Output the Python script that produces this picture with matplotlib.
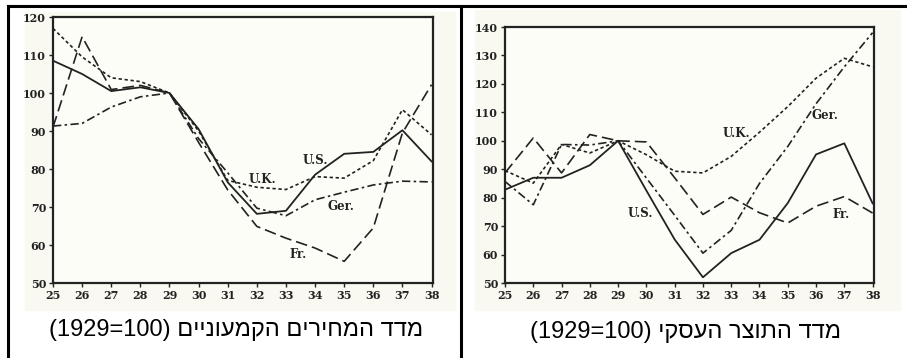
import matplotlib.pyplot as plt
from matplotlib.patches import Rectangle
from matplotlib.lines import Line2D

years = list(range(25, 39))
year_labels = [str(y) for y in years]

# wholesale prices, 1929 = 100
prices_us = [108.5, 105, 100.5, 101.5, 100, 90.5, 76.5, 68.2, 69, 78.5, 84, 84.5, 90.2, 82]
prices_uk = [117, 109.5, 104, 103, 100, 90, 77, 75.2, 74.6, 78, 77.6, 82.2, 95.6, 89]
prices_ger = [91.3, 92, 96.3, 99, 100, 88, 79, 69.7, 67.7, 71.9, 73.9, 75.8, 76.8, 76.6]
prices_fr = [91, 114.8, 100.9, 102, 100, 87, 74.5, 64.9, 61.8, 59.2, 55.7, 64.5, 89.5, 102.2]

# industrial production, 1929 = 100
prod_us = [82.8, 87, 87, 91.4, 100, 82.5, 65.3, 52, 60.5, 65.2, 78.1, 95.2, 99.1, 78]
prod_uk = [89.5, 85.1, 98.7, 95.7, 100, 95.1, 89.3, 88.7, 94.5, 103, 112, 122, 129, 126]
prod_ger = [85.7, 77.5, 98.7, 98.5, 100, 86.9, 73.8, 60.5, 68.5, 85, 98, 113, 126, 138]
prod_fr = [88.7, 101, 88.7, 102.2, 100, 99.6, 87, 74.1, 80.2, 74.7, 71.1, 77, 80.4, 74.6]

caption_left = "מדד המחירים הקמעוניים"
caption_right = "מדד התוצר העסקי"
base = "(1929=100)"

ink = '#222222'
styles = {
    'us': dict(ls='-', lw=1.3),
    'uk': dict(ls=(0, (2, 1.6)), lw=1.2),
    'ger': dict(ls=(0, (5, 2, 1.5, 2)), lw=1.2),
    'fr': dict(ls=(0, (7, 3)), lw=1.2),
}

fig = plt.figure(figsize=(9.07, 3.58), dpi=100)

# scanned paper background behind each chart
fig.patches.append(Rectangle((25 / 907, 1 - 310 / 358), 430 / 907, 298 / 358,
                             transform=fig.transFigure, color='#f9f9f1', zorder=-5))
fig.patches.append(Rectangle((475 / 907, 1 - 310 / 358), 425 / 907, 300 / 358,
                             transform=fig.transFigure, color='#f9f9f1', zorder=-5))

ax1 = fig.add_axes([53 / 907, 1 - 283 / 358, 380 / 907, 266 / 358])
ax2 = fig.add_axes([505 / 907, 1 - 283 / 358, 369 / 907, 256 / 358])


def draw(ax, us, uk, ger, fr, ylim, yticks):
    ax.set_facecolor('#fdfdf8')
    ax.plot(years, fr, color=ink, **styles['fr'])
    ax.plot(years, ger, color=ink, **styles['ger'])
    ax.plot(years, uk, color=ink, **styles['uk'])
    ax.plot(years, us, color=ink, **styles['us'])
    ax.set_xlim(25, 38.05)
    ax.set_ylim(*ylim)
    ax.set_xticks(years)
    ax.set_xticklabels(year_labels)
    ax.set_yticks(yticks)
    for s in ax.spines.values():
        s.set_linewidth(1.6)
        s.set_color(ink)
    ax.tick_params(direction='out', length=3, width=1, colors=ink, pad=2)
    for lab in ax.get_xticklabels() + ax.get_yticklabels():
        lab.set_fontfamily('DejaVu Serif')
        lab.set_fontweight('bold')
        lab.set_fontsize(8)


draw(ax1, prices_us, prices_uk, prices_ger, prices_fr, (50, 120), range(50, 121, 10))
draw(ax2, prod_us, prod_uk, prod_ger, prod_fr, (50, 140), range(50, 141, 10))

lab = dict(fontfamily='DejaVu Serif', fontweight='bold', fontsize=8.5, color=ink,
           ha='center', va='center')
ax1.text(34.0, 82.3, 'U.S.', **lab)
ax1.text(32.2, 77.2, 'U.K.', **lab)
ax1.text(34.9, 70.0, 'Ger.', **lab)
ax1.text(33.4, 57.6, 'Fr.', **lab)
ax2.text(33.2, 102.7, 'U.K.', **lab)
ax2.text(36.3, 109.0, 'Ger.', **lab)
ax2.text(29.8, 74.6, 'U.S.', **lab)
ax2.text(36.9, 74.0, 'Fr.', **lab)

# captions (hebrew written in visual order for left-to-right rendering)
cap = dict(fontfamily=['Liberation Sans', 'DejaVu Sans'], fontsize=17, color='black',
           ha='center', va='center')
fig.text(236 / 907, 1 - 330 / 358, base + ' ' + caption_left[::-1], **cap)
fig.text(685 / 907, 1 - 332 / 358, base + ' ' + caption_right[::-1], **cap)

# table frame lines
frame = dict(color='black', lw=2.2, transform=fig.transFigure)
fig.lines.append(Line2D([8 / 907, 1], [1 - 6 / 358, 1 - 6 / 358], **frame))
fig.lines.append(Line2D([8 / 907, 8 / 907], [0, 1 - 6 / 358], **frame))
fig.lines.append(Line2D([461 / 907, 461 / 907], [0, 1 - 6 / 358], **frame))

fig.savefig('out.png', dpi=100)
